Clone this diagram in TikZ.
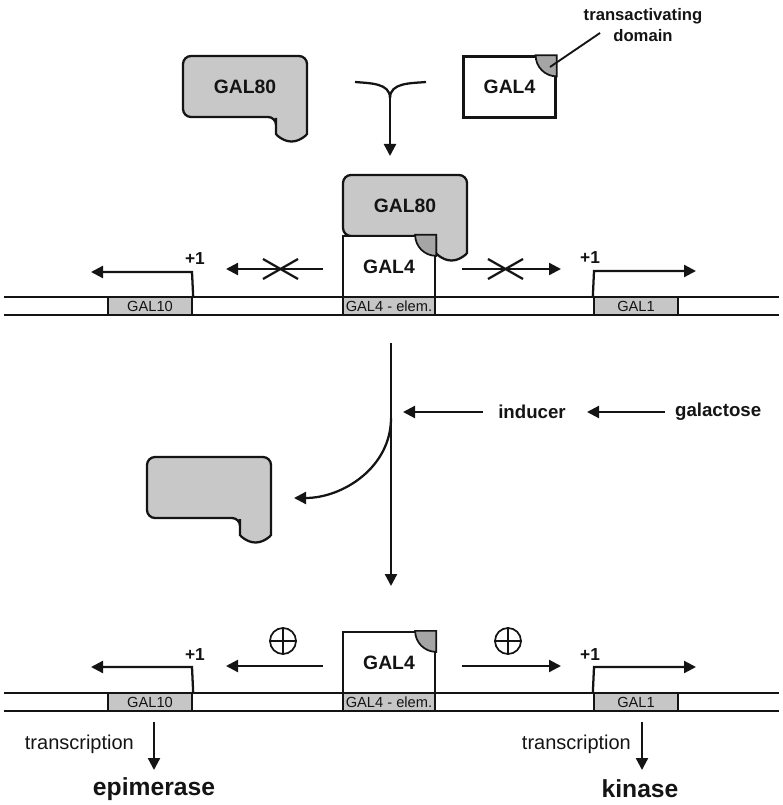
\documentclass[tikz,border=0pt]{standalone}
\usepackage{fontspec}
\setmainfont{Liberation Sans}
\usetikzlibrary{arrows.meta,calc}
\definecolor{protgray}{RGB}{200,200,200}
\definecolor{domgray}{RGB}{165,165,165}
\definecolor{genegray}{RGB}{198,198,198}
\definecolor{ink}{RGB}{20,20,20}
\tikzset{
  gaaleighty/.pic={
    \draw[fill=protgray,rounded corners=6pt] (0,0) -- (124,0) -- (124,-70)
      arc[start angle=0,end angle=-180,radius=15.5] -- (93,-61) -- (0,-61) -- cycle;
  },
  lbl/.style={font=\bfseries\fontsize{14}{16}\selectfont,inner sep=0},
  pone/.style={font=\bfseries\fontsize{13}{15}\selectfont,inner sep=0},
  gfour/.style={draw,fill=white,minimum width=69pt,minimum height=45.75pt,inner sep=0,
    font=\bfseries\fontsize{14.5}{16}\selectfont},
  gene/.style={draw,fill=genegray,minimum width=63pt,minimum height=13.5pt,inner sep=0,
    font=\fontsize{11}{12}\selectfont},
  plussign/.style={draw,circle,minimum size=19.5pt,inner sep=0,line width=1.3pt},
  dom/.style={fill=domgray,line width=1.3pt},
  trlbl/.style={font=\fontsize{15}{18}\selectfont,inner sep=0},
  enz/.style={font=\bfseries\fontsize{18.5}{21}\selectfont,inner sep=0},
}
\begin{document}
\begin{tikzpicture}[x=0.75pt,y=0.75pt,line width=1.7pt,color=ink,
  >={Triangle[length=9pt,width=9pt]}]
\useasboundingbox (0,0) rectangle (782,-805);

% ---------- top: free GAL80 and GAL4 ----------
\pic at (183,-56) {gaaleighty};
\node[lbl,font=\bfseries\fontsize{14.5}{16}\selectfont] (g80top) at (245,-87) {GAL80};

\node[gfour] (g4top) at (509.5,-87) {GAL4};
\draw[dom] ($(g4top.north east)+(-21,0)$) arc[start angle=180,end angle=270,radius=21] -- (g4top.north east) -- cycle;
\coordinate (domc) at (550,-67);
\node[lbl,align=center,font=\bfseries\fontsize{12.5}{15.5}\selectfont] (tadlbl) at (643,-25) {transactivating\\domain};
\draw[line width=1.4pt] (domc) -- (600,-33);

% binding Y
\coordinate (yl) at (355,-82);
\coordinate (yr) at (426,-82);
\coordinate (yj) at (390,-98);
\coordinate (yend) at (390,-156);
\draw (yl) to[out=-5,in=90] (yj);
\draw (yr) to[out=185,in=90] (yj);
\draw[->] (yj) -- (yend);

% ---------- middle: repressed complex ----------
\draw (4,-297) -- (779,-297);
\draw (4,-315) -- (779,-315);
\node[gene] (g10a) at (150,-306) {GAL10};
\node[gene] (g1a) at (636,-306) {GAL1};
\node[gene,minimum width=69pt] (elema) at (389,-306) {GAL4 - elem.};

\pic at (343,-175) {gaaleighty};
\node[lbl,font=\bfseries\fontsize{14.5}{16}\selectfont] (g80mid) at (405,-205.5) {GAL80};
\node[gfour] (g4mid) at (389,-266.5) {GAL4};
\draw[dom] ($(g4mid.north east)+(-21,0)$) arc[start angle=180,end angle=270,radius=21] -- (g4mid.north east) -- cycle;

% promoters
\coordinate (p10a) at (192,-272);
\coordinate (t10a) at (91,-272);
\draw[->] (g10a.north east) -- (p10a) -- (t10a);
\node[pone] (plus10a) at (195,-259) {+1};
\coordinate (p1a) at (594,-271);
\coordinate (t1a) at (696,-271);
\draw[->] (g1a.north west) -- (p1a) -- (t1a);
\node[pone] (plus1a) at (590,-258) {+1};

% blocked arrows
\coordinate (bls) at (323,-269);
\coordinate (ble) at (226,-269);
\draw[->] (bls) -- (ble);
\draw (263,-259) -- (298,-279) (263,-279) -- (298,-259);
\coordinate (brs) at (462,-269);
\coordinate (bre) at (561,-269);
\draw[->] (brs) -- (bre);
\draw (488,-259) -- (523,-279) (488,-279) -- (523,-259);

% ---------- induction ----------
\coordinate (vtop) at (391,-343);
\coordinate (vbot) at (391,-586);
\coordinate (vbend) at (391,-418);
\coordinate (cend) at (294,-498);
\draw[->] (vtop) -- (vbot);
\draw[->] (vbend) to[out=-90,in=0] (cend);

\node[lbl] (inducer) at (532,-412) {inducer};
\node[lbl,anchor=west] (galactose) at (674,-412) {galactose};
\draw[->] (inducer.west) ++(-14,0) -- (403,-412);
\draw[->] (galactose.west) ++(-9,0) -- (587,-412);

\pic at (147,-457) {gaaleighty};

% ---------- bottom: active ----------
\draw (4,-693) -- (779,-693);
\draw (4,-711) -- (779,-711);
\node[gene] (g10b) at (150,-702) {GAL10};
\node[gene] (g1b) at (636,-702) {GAL1};
\node[gene,minimum width=69pt] (elemb) at (389,-702) {GAL4 - elem.};

\node[gfour] (g4bot) at (389,-662.5) {GAL4};
\draw[dom] ($(g4bot.north east)+(-21,0)$) arc[start angle=180,end angle=270,radius=21] -- (g4bot.north east) -- cycle;

\coordinate (p10b) at (192,-667);
\coordinate (t10b) at (91,-667);
\draw[->] (g10b.north east) -- (p10b) -- (t10b);
\node[pone] (plus10b) at (195,-655) {+1};
\coordinate (p1b) at (594,-667);
\coordinate (t1b) at (696,-667);
\draw[->] (g1b.north west) -- (p1b) -- (t1b);
\node[pone] (plus1b) at (590,-655) {+1};

\coordinate (als) at (323,-666);
\coordinate (ale) at (226,-666);
\draw[->] (als) -- (ale);
\coordinate (ars) at (462,-666);
\coordinate (are) at (561,-666);
\draw[->] (ars) -- (are);
\node[plussign] (plusL) at (283,-641) {};
\draw[line width=1.3pt] (plusL.north) -- (plusL.south) (plusL.west) -- (plusL.east);
\node[plussign] (plusR) at (508,-641) {};
\draw[line width=1.3pt] (plusR.north) -- (plusR.south) (plusR.west) -- (plusR.east);

% transcription
\coordinate (trLs) at (154,-722);
\coordinate (trLe) at (154,-770);
\draw[->] (trLs) -- (trLe);
\node[trlbl,anchor=east] (trL) at (135,-744) {transcription};
\node[enz] (epi) at (154,-789) {epimerase};

\coordinate (trRs) at (642,-722);
\coordinate (trRe) at (642,-770);
\draw[->] (trRs) -- (trRe);
\node[trlbl,anchor=east] (trR) at (632,-744) {transcription};
\node[enz] (kin) at (640,-789) {kinase};
\end{tikzpicture}
\end{document}
